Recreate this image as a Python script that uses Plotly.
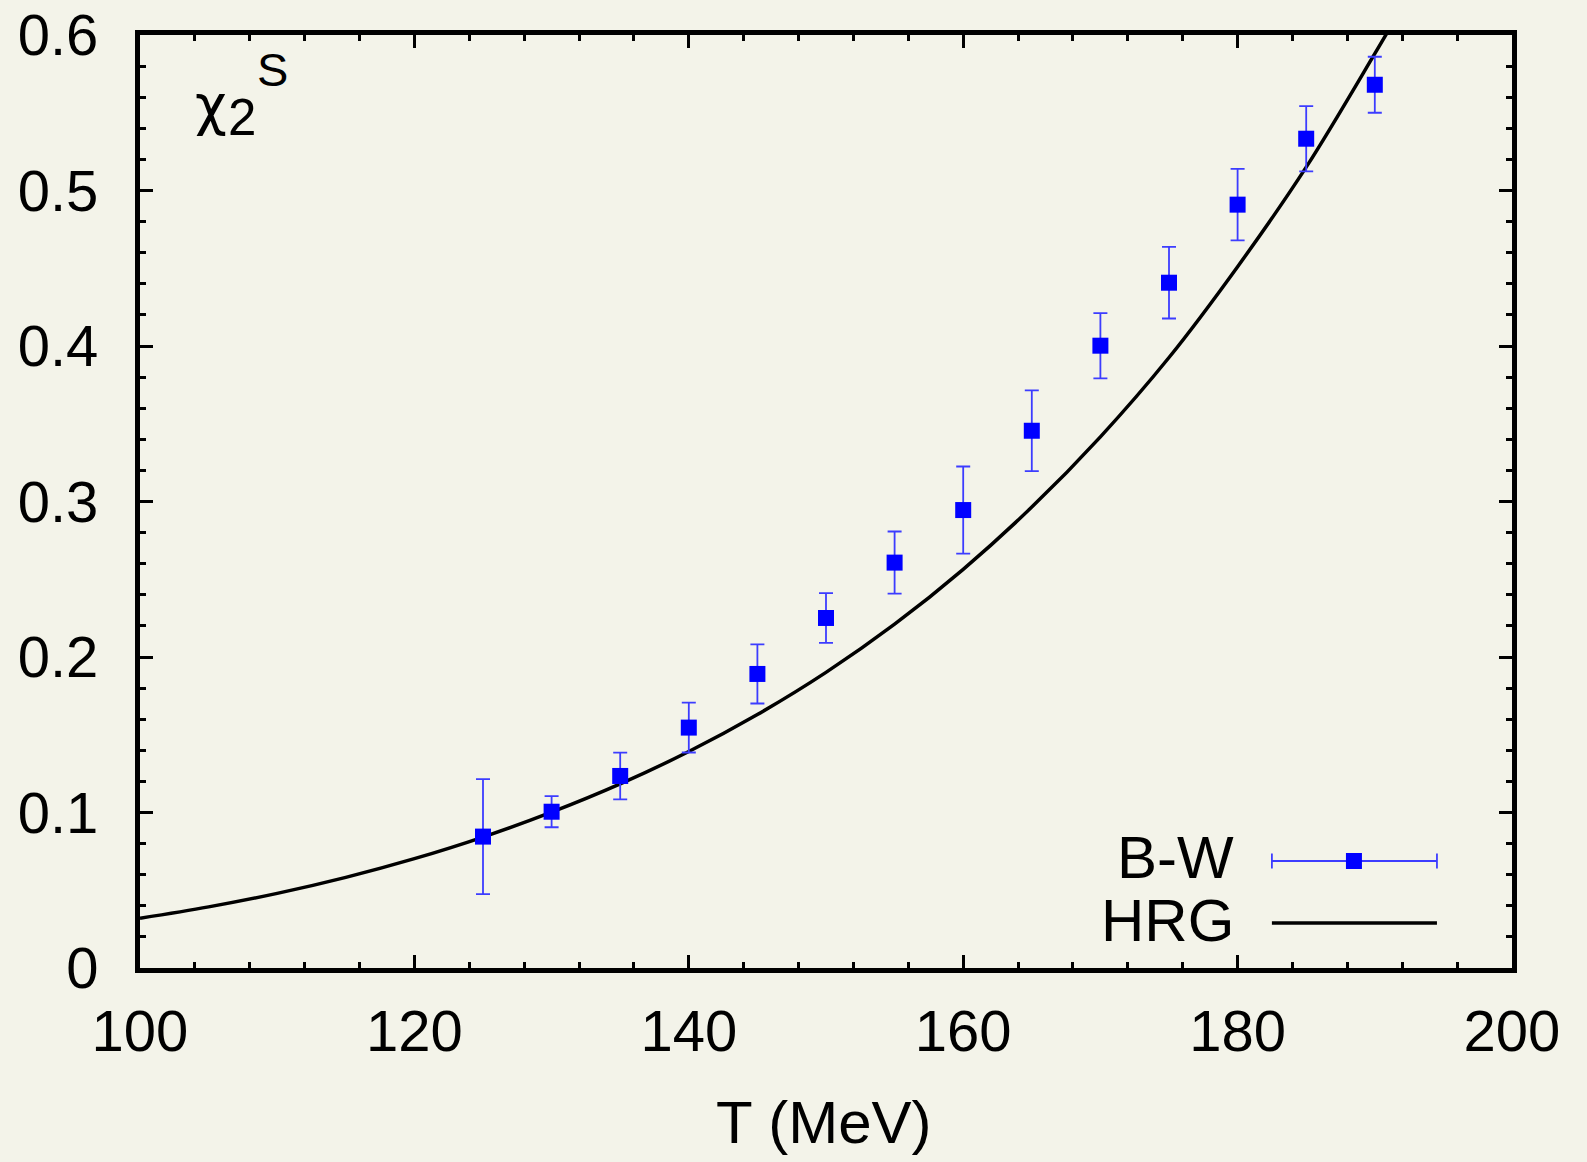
import plotly.graph_objects as go

# B-W lattice data
bw_T = [125, 130, 135, 140, 145, 150, 155, 160, 165, 170, 175, 180, 185, 190]
bw_chi = [0.0845, 0.1005, 0.1235, 0.1546, 0.1891, 0.2251, 0.2607, 0.2945, 0.3455,
          0.4002, 0.4407, 0.4909, 0.5333, 0.5680]
bw_err = [0.037, 0.010, 0.015, 0.016, 0.019, 0.016, 0.020, 0.028, 0.026,
          0.021, 0.023, 0.023, 0.021, 0.018]

# HRG curve (read every 5 MeV)
hrg_T = [100, 105, 110, 115, 120, 125, 130, 135, 140, 145, 150, 155, 160, 165,
         170, 175, 180, 185, 190, 191]
hrg_chi = [0.0320, 0.0393, 0.0480, 0.0583, 0.0703, 0.0842, 0.1002, 0.1184, 0.1392,
           0.1630, 0.1901, 0.2211, 0.2564, 0.2964, 0.3416, 0.3926, 0.4510, 0.5150,
           0.5880, 0.6030]

x_ticks = [100, 120, 140, 160, 180, 200]
y_ticks = [0, 0.1, 0.2, 0.3, 0.4, 0.5, 0.6]

BG = "#f3f3e9"
FONT = "Liberation Sans, Arial, Helvetica, sans-serif"

fig = go.Figure()
fig.add_trace(go.Scatter(
    x=hrg_T, y=hrg_chi, mode="lines", line=dict(color="black", width=3.5, shape="spline"),
    name="HRG", showlegend=False))
fig.add_trace(go.Scatter(
    x=bw_T, y=bw_chi, mode="markers",
    marker=dict(symbol="square", size=16, color="#0000ff", line=dict(width=0)),
    error_y=dict(type="data", array=bw_err, visible=True, color="#3c3cff",
                 thickness=1.8, width=7),
    name="B-W", showlegend=False))

axis_common = dict(
    showline=True, linecolor="black", linewidth=5, mirror="allticks",
    ticks="inside", ticklen=13, tickwidth=2.5, tickcolor="black",
    showgrid=False, zeroline=False,
    tickfont=dict(family=FONT, size=58, color="black"),
)

fig.update_xaxes(range=[100, 200], tickvals=x_ticks, ticktext=[str(v) for v in x_ticks],
                 minor=dict(dtick=4, tick0=100, ticks="inside", ticklen=6, tickwidth=2.5,
                            tickcolor="black", showgrid=False),
                 ticklabelstandoff=8, **axis_common)
fig.update_yaxes(range=[0, 0.6], tickvals=y_ticks,
                 ticktext=["0", "0.1", "0.2", "0.3", "0.4", "0.5", "0.6"],
                 minor=dict(dtick=0.02, tick0=0, ticks="inside", ticklen=6, tickwidth=2.5,
                            tickcolor="black", showgrid=False),
                 ticklabelstandoff=25, **axis_common)

ann_font = dict(family=FONT, color="black")
annotations = [
    dict(text="T (MeV)", xref="paper", yref="paper", x=0.4985, y=-0.166,
         xanchor="center", yanchor="middle", showarrow=False, font=dict(size=60, **ann_font)),
    dict(text="χ", xref="paper", yref="paper", x=0.0521, y=0.925,
         xanchor="center", yanchor="middle", showarrow=False,
         font=dict(size=55, family="DejaVu Sans", color="black")),
    dict(text="2", xref="paper", yref="paper", x=0.074, y=0.912,
         xanchor="center", yanchor="middle", showarrow=False, font=dict(size=51, **ann_font)),
    dict(text="S", xref="paper", yref="paper", x=0.0969, y=0.963,
         xanchor="center", yanchor="middle", showarrow=False, font=dict(size=47, **ann_font)),
    dict(text="B-W", xref="paper", yref="paper", x=0.7959, y=0.1179, xshift=4,
         xanchor="right", yanchor="middle", showarrow=False, font=dict(size=60, **ann_font)),
    dict(text="HRG", xref="paper", yref="paper", x=0.7959, y=0.0514, xshift=4,
         xanchor="right", yanchor="middle", showarrow=False, font=dict(size=60, **ann_font)),
]

# legend samples (drawn on the right of the labels, as in the original)
lx0, lx1, lxc = 0.825, 0.9453, 0.8848
ly_bw, ly_hrg = 0.1147, 0.0482
shapes = [
    dict(type="line", xref="paper", yref="paper", x0=lx0, x1=lx1, y0=ly_bw, y1=ly_bw,
         line=dict(color="#3c3cff", width=1.8)),
    dict(type="line", xref="paper", yref="paper", x0=lx0, x1=lx0, ysizemode="pixel",
         yanchor=ly_bw, y0=-7.5, y1=7.5, line=dict(color="#3c3cff", width=1.8)),
    dict(type="line", xref="paper", yref="paper", x0=lx1, x1=lx1, ysizemode="pixel",
         yanchor=ly_bw, y0=-7.5, y1=7.5, line=dict(color="#3c3cff", width=1.8)),
    dict(type="rect", xref="paper", yref="paper", xsizemode="pixel", ysizemode="pixel",
         xanchor=lxc, yanchor=ly_bw, x0=-8, x1=8, y0=-8, y1=8,
         fillcolor="#0000ff", line=dict(width=0)),
    dict(type="line", xref="paper", yref="paper", x0=lx0, x1=lx1, y0=ly_hrg, y1=ly_hrg,
         line=dict(color="black", width=3.5)),
]

fig.update_layout(
    width=1587, height=1162,
    margin=dict(l=140, r=75, t=35, b=194, autoexpand=False),
    paper_bgcolor=BG, plot_bgcolor=BG,
    showlegend=False,
    annotations=annotations, shapes=shapes,
    font=dict(family=FONT, color="black"),
)

fig.write_html("out.html")
